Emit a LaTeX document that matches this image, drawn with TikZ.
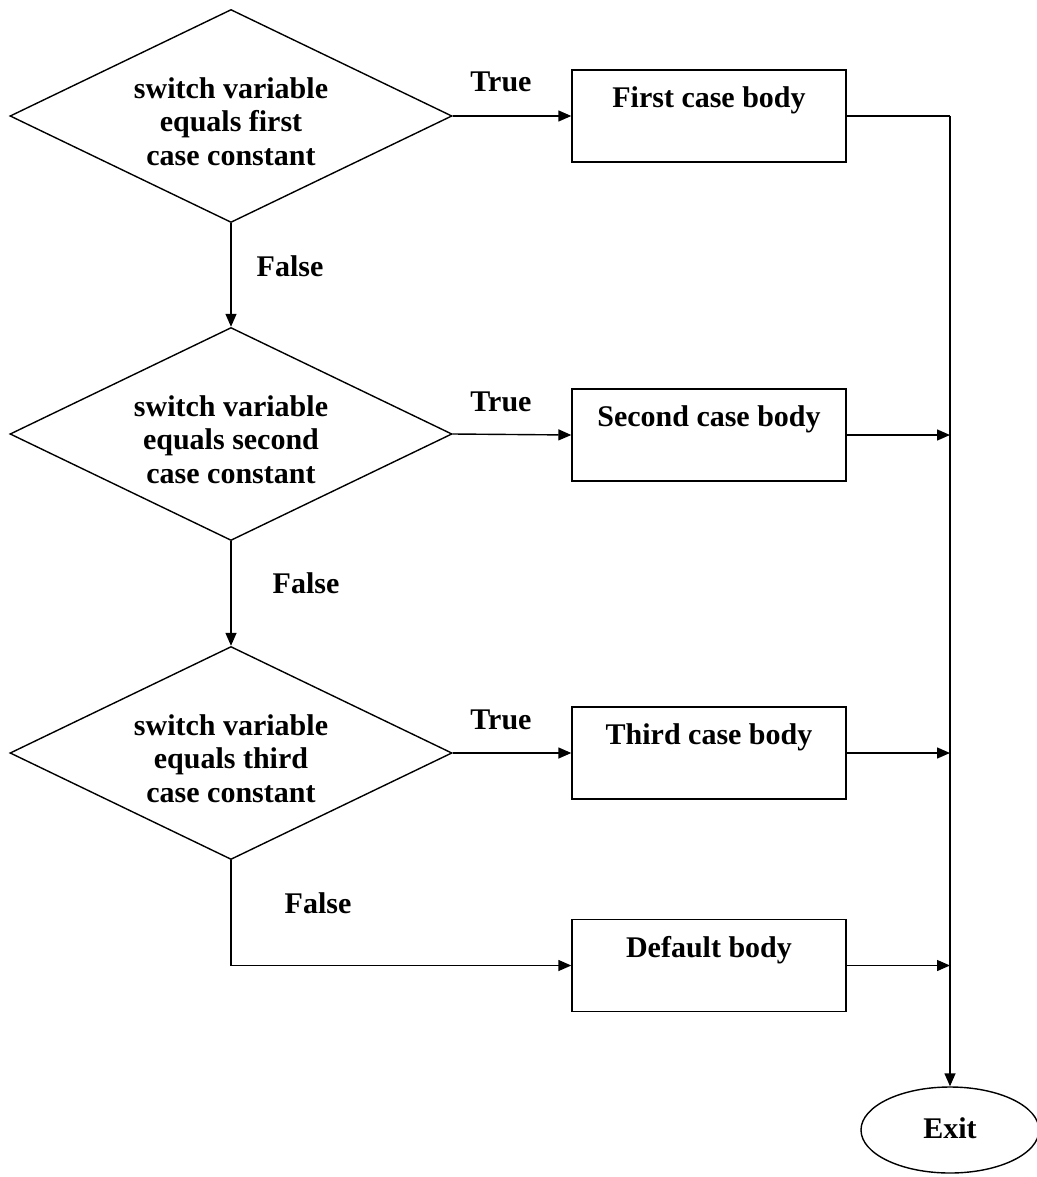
\documentclass[tikz,border=0pt]{standalone}
\usepackage{fontspec}
\setmainfont{Liberation Serif}
\usetikzlibrary{shapes.geometric,arrows.meta}
\tikzset{
  x=1pt, y=-1pt,
  conn/.style={line width=1.4pt, draw=black},
  arr/.style={conn, -{Triangle[length=13pt,width=11pt]}},
  dec/.style={diamond, draw, line width=1.4pt, inner sep=0pt, aspect=2.07,
    minimum width=442pt, minimum height=213pt, align=center,
    font=\fontsize{30}{33.5}\selectfont\bfseries},
  bodybox/.style={rectangle, draw, line width=1.4pt, minimum width=274pt, minimum height=92pt, inner sep=0pt},
  boxtext/.style={anchor=north, inner sep=0pt, yshift=-17pt, font=\fontsize{30}{33.5}\selectfont\bfseries},
  lbl/.style={inner sep=0pt, font=\fontsize{30}{33.5}\selectfont\bfseries},
  term/.style={ellipse, draw, line width=1.4pt, minimum width=178pt, minimum height=86pt, inner sep=0pt,
    font=\fontsize{30}{33.5}\selectfont\bfseries}
}
\begin{document}
\begin{tikzpicture}
\useasboundingbox (0,0) rectangle (1036,1177);
% decisions
\node[dec] (d1) at (231,116) {\\[-2pt]switch variable\\equals first\\case constant};
\node[dec] (d2) at (231,434) {\\[-2pt]switch variable\\equals second\\case constant};
\node[dec] (d3) at (231,753) {\\[-2pt]switch variable\\equals third\\case constant};
% bodies
\node[bodybox, label={[boxtext]north:First case body}] (b1) at (709,116) {};
\node[bodybox, label={[boxtext]north:Second case body}] (b2) at (709,435) {};
\node[bodybox, label={[boxtext]north:Third case body}] (b3) at (709,753) {};
\node[bodybox, label={[boxtext]north:Default body}] (b4) at (709,965.5) {};
% exit
\node[term] (ex) at (950,1130) {\raisebox{3pt}{Exit}};
% labels
\node[lbl] (t1) at (501,82) {True};
\node[lbl] (t2) at (501,402) {True};
\node[lbl] (t3) at (501,720) {True};
\node[lbl] (f1) at (290,266) {False};
\node[lbl] (f2) at (306,583) {False};
\node[lbl] (f3) at (318,903) {False};
% junctions
\coordinate (j1) at (950,116);
\coordinate (j2) at (950,435);
\coordinate (j3) at (950,753);
\coordinate (j4) at (950,965.5);
\coordinate (k) at (231,965.5);
% connectors
\draw[arr] (d1.east) -- (b1.west);
\draw[arr] (d2.east) -- (b2.west);
\draw[arr] (d3.east) -- (b3.west);
\draw[arr] (d1.south) -- (d2.north);
\draw[arr] (d2.south) -- (d3.north);
\draw[conn] (d3.south) -- (k);
\draw[arr] (k) -- (b4.west);
\draw[conn] (b1.east) -- (j1);
\draw[arr] (j1) -- (ex.north);
\draw[arr] (b2.east) -- (j2);
\draw[arr] (b3.east) -- (j3);
\draw[arr] (b4.east) -- (j4);
\end{tikzpicture}
\end{document}
